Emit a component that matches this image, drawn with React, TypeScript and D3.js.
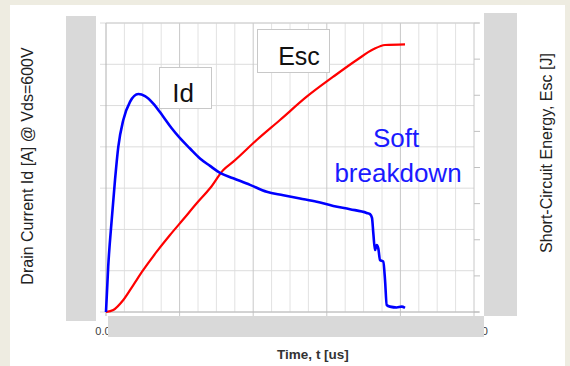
import { scaleLinear, line, curveMonotoneX, range } from "d3";

const width = 570;
const height = 366;
const plot = { left: 106, right: 474, top: 23, bottom: 312 };

// time axis (us), labels mostly covered in the original
const timeTicks = [0, 2, 4, 6, 8, 10];
const timeMinorStep = 0.5;
const idTicks = [0, 100, 200, 300, 400, 500, 600, 700];
const escTicks = [0, 1, 2, 3, 4, 5, 6, 7, 8];

// drain current Id [A]
const idTime = [
  0, 0.06, 0.155, 0.245, 0.334, 0.47, 0.652, 0.878, 1.06, 1.285, 1.557, 1.785,
  2.011, 2.283, 2.554, 2.826, 3.098, 3.459, 3.913, 4.367, 4.818, 5.272, 5.726,
  6.177, 6.63, 7.084, 7.174, 7.228, 7.264, 7.31, 7.356, 7.399, 7.446, 7.535,
  7.582, 7.628, 7.717, 7.899, 8.035, 8.125,
];
const idValues = [
  0, 110, 223, 320, 400, 465, 509, 528, 523, 505, 473, 445, 421, 396, 372, 354,
  337, 324, 308, 291, 283, 275, 267, 257, 249, 240, 237, 228, 191, 150, 162,
  154, 126, 122, 78, 17, 13, 11, 13, 10,
];

// short-circuit energy Esc [J]
const escTime = [
  0, 0.198, 0.47, 0.742, 1.014, 1.378, 1.739, 2.101, 2.465, 2.826, 3.188, 3.459,
  4.095, 4.728, 5.454, 6.177, 6.813, 7.264, 7.582, 8.125,
];
const escValues = [
  0, 0.055, 0.332, 0.747, 1.163, 1.669, 2.131, 2.566, 3.009, 3.424, 3.931,
  4.161, 4.761, 5.315, 5.96, 6.514, 6.976, 7.272, 7.391, 7.41,
];

const font = '"Liberation Sans", Arial, sans-serif';

export default function App() {
  const x = scaleLinear().domain([0, 10]).range([plot.left, plot.right]);
  const yId = scaleLinear().domain([0, 700]).range([plot.bottom, plot.top]);
  const yEsc = scaleLinear().domain([0, 8]).range([plot.bottom, plot.top]);

  const minorTicks = range(0, 10 + 1e-9, timeMinorStep).filter(
    (t) => !timeTicks.includes(t),
  );

  const idLine = line<number>()
    .x((_, i) => x(idTime[i]))
    .y((d) => yId(d))
    .curve(curveMonotoneX);
  const escLine = line<number>()
    .x((_, i) => x(escTime[i]))
    .y((d) => yEsc(d))
    .curve(curveMonotoneX);

  return (
    <svg
      width={width}
      height={height}
      style={{ position: "absolute", left: 0, top: 0 }}
      fontFamily={font}
    >
      <rect width={width} height={height} fill="#eeece1" />
      <rect x={10} y={5} width={555} height={361} fill="white" />

      {/* grid */}
      {minorTicks.map((t) => (
        <line
          key={"m" + t}
          x1={x(t)}
          x2={x(t)}
          y1={plot.top}
          y2={plot.bottom}
          stroke="#e2e2e2"
        />
      ))}
      {idTicks.map((v) => (
        <line
          key={"h" + v}
          x1={plot.left - 6}
          x2={plot.right}
          y1={yId(v)}
          y2={yId(v)}
          stroke="#dcdcdc"
        />
      ))}
      {timeTicks.map((t) => (
        <line
          key={"M" + t}
          x1={x(t)}
          x2={x(t)}
          y1={plot.top}
          y2={plot.bottom + 4}
          stroke={t === 0 ? "#b0b0b0" : "#c8c8c8"}
        />
      ))}
      {escTicks.map((v) => (
        <line
          key={"r" + v}
          x1={plot.right}
          x2={plot.right + 6}
          y1={yEsc(v)}
          y2={yEsc(v)}
          stroke="#c0c0c0"
        />
      ))}
      <line
        x1={plot.left}
        x2={plot.right + 5}
        y1={plot.bottom}
        y2={plot.bottom}
        stroke="#b8b8b8"
      />
      <line
        x1={plot.left}
        x2={plot.right + 5}
        y1={plot.top}
        y2={plot.top}
        stroke="#d0d0d0"
      />

      {timeTicks.map((t) => (
        <text
          key={"l" + t}
          x={x(t)}
          y={335}
          fontSize={11}
          textAnchor="middle"
          fill="#404040"
        >
          {t.toFixed(2)}
        </text>
      ))}

      {/* curves */}
      <path
        d={escLine(escValues) ?? ""}
        fill="none"
        stroke="#ff0000"
        strokeWidth={2.2}
      />
      <path
        d={idLine(idValues) ?? ""}
        fill="none"
        stroke="#0000ff"
        strokeWidth={2.6}
        strokeLinejoin="round"
      />

      {/* grey masks over the axis labels */}
      <rect x={66} y={16} width={30} height={305} fill="#d9d9d9" />
      <rect x={484} y={13} width={33} height={303} fill="#d9d9d9" />
      <rect x={108} y={316} width={376} height={21} fill="#d9d9d9" />

      {/* annotations */}
      <rect
        x={159.5}
        y={67.5}
        width={52}
        height={41}
        fill="white"
        stroke="#c8c8c8"
      />
      <text x={183} y={102} fontSize={26} textAnchor="middle" fill="#111">
        Id
      </text>
      <rect
        x={257.5}
        y={29.5}
        width={72}
        height={43}
        fill="white"
        stroke="#c8c8c8"
      />
      <text x={299} y={65} fontSize={25} textAnchor="middle" fill="#111">
        Esc
      </text>
      <text x={396} y={147} fontSize={26} textAnchor="middle" fill="#1a1aff">
        Soft
      </text>
      <text x={398} y={182} fontSize={26} textAnchor="middle" fill="#1a1aff">
        breakdown
      </text>

      {/* axis titles */}
      <text
        transform="translate(33,166) rotate(-90)"
        fontSize={16}
        textAnchor="middle"
        fill="#222"
      >
        Drain Current Id [A] @ Vds=600V
      </text>
      <text
        transform="translate(552,153) rotate(-90)"
        fontSize={16}
        textAnchor="middle"
        fill="#222"
      >
        Short-Circuit Energy, Esc [J]
      </text>
      <text
        x={313}
        y={359}
        fontSize={13.5}
        fontWeight={700}
        textAnchor="middle"
        fill="#333"
      >
        Time, t [us]
      </text>
    </svg>
  );
}
